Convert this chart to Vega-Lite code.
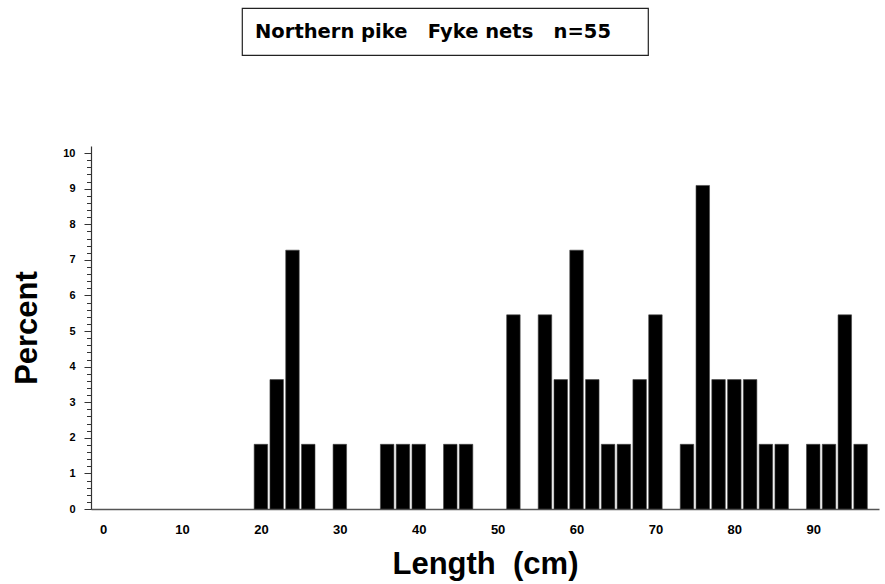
{
  "$schema": "https://vega.github.io/schema/vega-lite/v6.json",
  "background": "white",
  "padding": {"top": 7, "left": 11, "right": 2, "bottom": 5},
  "spacing": 90,
  "config": {
    "view": {"stroke": null},
    "font": "Liberation Sans"
  },
  "vconcat": [
    {
      "spacing": 20,
      "hconcat": [
        {
          "width": 130,
          "height": 47,
          "data": {"values": []},
          "mark": {"type": "text"},
          "encoding": {}
        },
        {
          "width": 406,
          "height": 47,
          "view": {"stroke": "#222", "strokeWidth": 1.2},
          "data": {"values": [{"label": "Northern pike\u00a0\u00a0\u00a0Fyke nets\u00a0\u00a0\u00a0n=55"}]},
          "mark": {"type": "text", "font": "DejaVu Sans", "fontWeight": "bold", "fontSize": 19.5, "baseline": "middle", "dx": -12, "color": "black"},
          "encoding": {"text": {"field": "label", "type": "nominal"}}
        }
      ]
    },
    {
      "width": 788,
      "height": 363,
      "data": {
        "values": [
          {"length": 20, "percent": 1.818},
          {"length": 22, "percent": 3.636},
          {"length": 24, "percent": 7.273},
          {"length": 26, "percent": 1.818},
          {"length": 30, "percent": 1.818},
          {"length": 36, "percent": 1.818},
          {"length": 38, "percent": 1.818},
          {"length": 40, "percent": 1.818},
          {"length": 44, "percent": 1.818},
          {"length": 46, "percent": 1.818},
          {"length": 52, "percent": 5.455},
          {"length": 56, "percent": 5.455},
          {"length": 58, "percent": 3.636},
          {"length": 60, "percent": 7.273},
          {"length": 62, "percent": 3.636},
          {"length": 64, "percent": 1.818},
          {"length": 66, "percent": 1.818},
          {"length": 68, "percent": 3.636},
          {"length": 70, "percent": 5.455},
          {"length": 74, "percent": 1.818},
          {"length": 76, "percent": 9.091},
          {"length": 78, "percent": 3.636},
          {"length": 80, "percent": 3.636},
          {"length": 82, "percent": 3.636},
          {"length": 84, "percent": 1.818},
          {"length": 86, "percent": 1.818},
          {"length": 90, "percent": 1.818},
          {"length": 92, "percent": 1.818},
          {"length": 94, "percent": 5.455},
          {"length": 96, "percent": 1.818}
        ]
      },
      "mark": {"type": "bar", "width": 13.5, "color": "black", "stroke": "#444", "strokeWidth": 0.6},
      "encoding": {
        "x": {
          "field": "length",
          "type": "quantitative",
          "scale": {"domain": [-0.9, 97.7], "nice": false, "zero": false},
          "axis": {
            "title": "Length\u00a0\u00a0(cm)",
            "values": [0, 10, 20, 30, 40, 50, 60, 70, 80, 90],
            "format": "d",
            "ticks": false,
            "tickSize": 0,
            "grid": false,
            "domainColor": "#555",
            "domainWidth": 1.5,
            "labelFont": "Liberation Sans",
            "labelFontWeight": "bold",
            "labelFontSize": 13,
            "labelColor": "black",
            "labelPadding": 14,
            "titleFont": "Liberation Sans",
            "titleFontWeight": "bold",
            "titleFontSize": 31,
            "titleColor": "black",
            "titlePadding": 13
          }
        },
        "y": {
          "field": "percent",
          "type": "quantitative",
          "scale": {"domain": [0, 10.2], "nice": false},
          "axis": {
            "title": "Percent",
            "values": [0, 0.2, 0.4, 0.6, 0.8, 1, 1.2, 1.4, 1.6, 1.8, 2, 2.2, 2.4, 2.6, 2.8, 3, 3.2, 3.4, 3.6, 3.8, 4, 4.2, 4.4, 4.6, 4.8, 5, 5.2, 5.4, 5.6, 5.8, 6, 6.2, 6.4, 6.6, 6.8, 7, 7.2, 7.4, 7.6, 7.8, 8, 8.2, 8.4, 8.6, 8.8, 9, 9.2, 9.4, 9.6, 9.8, 10],
            "labelExpr": "datum.value % 1 === 0 ? format(datum.value, 'd') : ''",
            "labelOverlap": false,
            "tickSize": {"condition": {"test": "datum.value % 1 === 0", "value": 7}, "value": 4.5},
            "tickColor": "#333",
            "grid": false,
            "domainColor": "#333",
            "domainWidth": 1.2,
            "labelFont": "Liberation Sans",
            "labelFontWeight": "bold",
            "labelFontSize": 11,
            "labelColor": "black",
            "labelPadding": 9,
            "titleFont": "Liberation Sans",
            "titleFontWeight": "bold",
            "titleFontSize": 31,
            "titleColor": "black",
            "titlePadding": 19
          }
        }
      }
    }
  ]
}
